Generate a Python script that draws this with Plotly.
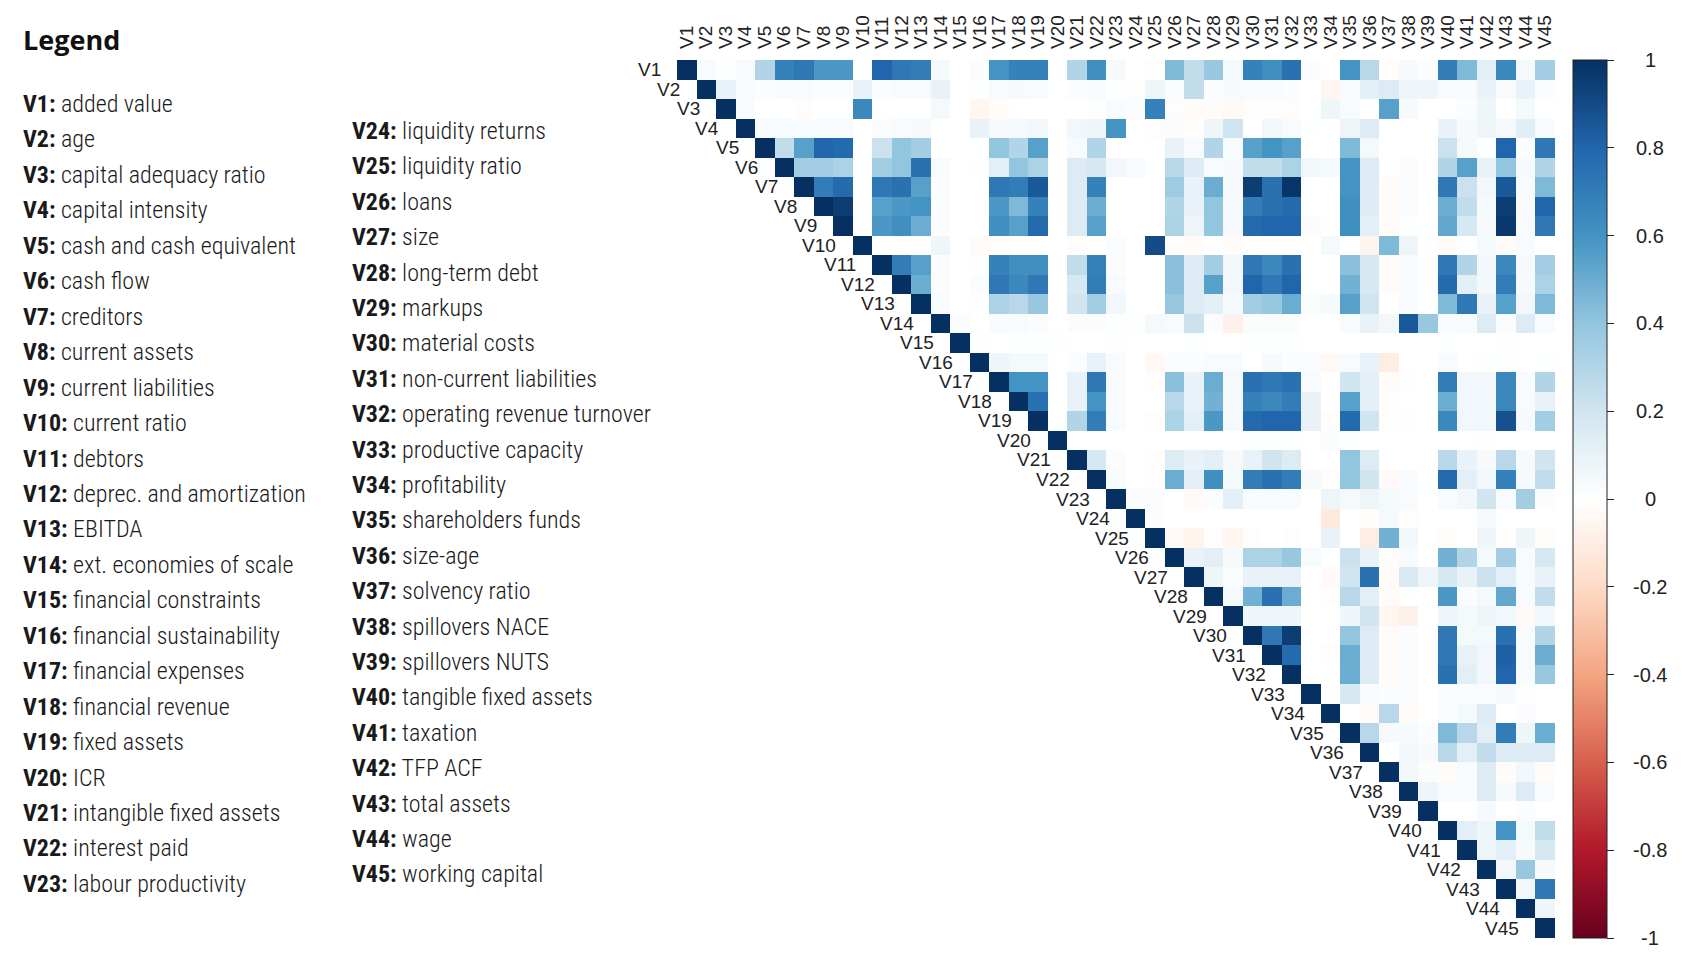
import plotly.graph_objects as go

# variable names (V1..V45) and their descriptions
var_names = ["V%d" % i for i in range(1, 46)]
descriptions = [
    "added value", "age", "capital adequacy ratio", "capital intensity",
    "cash and cash equivalent", "cash flow", "creditors", "current assets",
    "current liabilities", "current ratio", "debtors", "deprec. and amortization",
    "EBITDA", "ext. economies of scale", "financial constraints",
    "financial sustainability", "financial expenses", "financial revenue",
    "fixed assets", "ICR", "intangible fixed assets", "interest paid",
    "labour productivity", "liquidity returns", "liquidity ratio", "loans",
    "size", "long-term debt", "markups", "material costs",
    "non-current liabilities", "operating revenue turnover",
    "productive capacity", "profitability", "shareholders funds", "size-age",
    "solvency ratio", "spillovers NACE", "spillovers NUTS",
    "tangible fixed assets", "taxation", "TFP ACF", "total assets", "wage",
    "working capital",
]

# upper triangle of the correlation matrix, row k holds columns k+1..45
r1 = [0.03, 0.01, 0.03, 0.30, 0.68, 0.72, 0.58, 0.58, 0.00, 0.80, 0.72, 0.70, 0.05, 0.00, 0.02, 0.60, 0.68, 0.68, 0.00, 0.30, 0.62, 0.04, 0.00, -0.01, 0.45, 0.25, 0.38, 0.05, 0.68, 0.62, 0.75, 0.02, 0.00, 0.60, 0.28, -0.01, 0.04, 0.02, 0.70, 0.45, 0.12, 0.65, 0.05, 0.35]
r2 = [0.10, 0.03, 0.02, 0.03, 0.03, 0.02, 0.02, 0.10, 0.02, 0.03, 0.03, 0.10, 0.00, 0.01, 0.03, 0.04, 0.03, 0.00, 0.02, 0.03, 0.01, -0.01, 0.08, 0.02, 0.25, 0.02, 0.04, 0.03, 0.03, 0.02, 0.00, -0.05, 0.03, 0.12, 0.15, 0.08, 0.07, 0.03, 0.03, 0.10, 0.03, 0.10, 0.02]
r3 = [0.03, 0.00, 0.00, -0.01, 0.00, 0.00, 0.65, 0.00, 0.00, 0.00, 0.05, 0.00, -0.05, -0.02, 0.00, 0.00, 0.00, 0.00, 0.01, 0.03, 0.02, 0.68, -0.01, -0.02, -0.02, -0.04, -0.01, -0.01, -0.01, 0.00, 0.07, 0.03, 0.00, 0.55, 0.04, 0.00, 0.00, 0.02, 0.07, 0.00, 0.05, 0.00]
r4 = [0.03, 0.03, 0.03, 0.03, 0.03, 0.00, 0.02, 0.03, 0.04, 0.00, 0.00, 0.10, 0.04, 0.05, 0.06, 0.00, 0.06, 0.07, 0.60, 0.00, -0.01, 0.02, -0.01, 0.07, 0.20, 0.00, 0.06, 0.03, 0.01, 0.00, 0.08, 0.15, 0.00, 0.00, 0.00, 0.10, 0.04, 0.07, 0.05, 0.13, 0.03]
r5 = [0.25, 0.55, 0.80, 0.78, 0.00, 0.22, 0.40, 0.35, 0.00, 0.00, 0.00, 0.40, 0.30, 0.55, 0.00, 0.03, 0.30, 0.00, 0.00, 0.00, 0.10, 0.03, 0.30, 0.03, 0.55, 0.60, 0.55, 0.00, 0.00, 0.45, 0.05, 0.00, 0.00, 0.00, 0.22, 0.05, 0.01, 0.80, 0.02, 0.72]
r6 = [0.35, 0.35, 0.32, 0.00, 0.35, 0.40, 0.75, 0.03, 0.00, 0.01, 0.12, 0.40, 0.32, 0.00, 0.15, 0.18, 0.06, 0.03, 0.00, 0.28, 0.15, 0.03, 0.04, 0.25, 0.25, 0.32, 0.06, 0.05, 0.60, 0.15, 0.00, 0.02, 0.00, 0.30, 0.55, 0.10, 0.40, 0.04, 0.30]
r7 = [0.70, 0.78, 0.00, 0.72, 0.75, 0.55, 0.02, 0.00, 0.00, 0.72, 0.70, 0.85, 0.00, 0.15, 0.68, 0.00, 0.00, 0.00, 0.36, 0.10, 0.50, 0.04, 0.95, 0.75, 0.98, 0.00, 0.00, 0.60, 0.15, -0.02, 0.02, 0.00, 0.72, 0.22, 0.06, 0.85, 0.03, 0.45]
r8 = [0.95, 0.00, 0.55, 0.58, 0.60, 0.02, 0.00, 0.00, 0.58, 0.45, 0.68, 0.00, 0.15, 0.50, 0.00, 0.00, 0.00, 0.30, 0.10, 0.40, 0.04, 0.70, 0.75, 0.78, 0.00, 0.00, 0.62, 0.15, -0.02, 0.02, 0.00, 0.50, 0.25, 0.05, 0.95, 0.03, 0.80]
r9 = [0.00, 0.58, 0.62, 0.50, 0.02, 0.00, 0.00, 0.62, 0.55, 0.78, 0.00, 0.15, 0.55, 0.00, 0.00, 0.00, 0.32, 0.08, 0.40, 0.04, 0.78, 0.80, 0.80, 0.02, 0.00, 0.62, 0.12, -0.02, 0.01, 0.00, 0.52, 0.18, 0.04, 0.97, 0.03, 0.72]
r10 = [0.00, 0.00, 0.00, 0.07, 0.00, -0.02, -0.01, 0.00, 0.00, 0.00, -0.01, 0.00, 0.02, 0.00, 0.90, -0.01, -0.02, 0.00, -0.02, 0.00, 0.00, 0.00, 0.00, 0.05, 0.00, -0.06, 0.45, 0.08, 0.01, -0.02, 0.00, 0.05, -0.02, 0.03, 0.00]
r11 = [0.70, 0.55, 0.02, 0.00, 0.01, 0.68, 0.62, 0.62, 0.00, 0.25, 0.68, 0.02, 0.00, 0.00, 0.42, 0.15, 0.35, 0.06, 0.72, 0.65, 0.75, 0.00, 0.00, 0.42, 0.18, -0.02, 0.03, 0.00, 0.72, 0.30, 0.06, 0.65, 0.04, 0.35]
r12 = [0.50, 0.02, 0.00, 0.02, 0.72, 0.65, 0.72, 0.00, 0.18, 0.70, 0.03, 0.00, 0.00, 0.42, 0.15, 0.55, 0.06, 0.80, 0.72, 0.80, 0.00, 0.00, 0.48, 0.18, -0.02, 0.03, 0.00, 0.78, 0.12, 0.06, 0.70, 0.04, 0.32]
r13 = [0.03, 0.00, 0.01, 0.32, 0.28, 0.38, 0.00, 0.20, 0.35, 0.06, 0.00, 0.00, 0.38, 0.15, 0.12, 0.05, 0.35, 0.38, 0.50, 0.02, 0.04, 0.55, 0.20, 0.00, 0.03, 0.00, 0.45, 0.72, 0.10, 0.55, 0.06, 0.45]
r14 = [0.02, 0.00, 0.03, 0.03, 0.02, 0.00, 0.02, 0.02, 0.01, 0.01, 0.05, 0.03, 0.22, 0.02, -0.08, 0.02, 0.02, 0.02, 0.00, 0.00, 0.03, 0.10, 0.06, 0.85, 0.38, 0.03, 0.03, 0.15, 0.02, 0.15, 0.03]
r15 = [0.01, 0.00, 0.01, 0.01, 0.01, 0.00, 0.00, 0.01, 0.00, 0.00, 0.00, 0.01, 0.00, 0.00, 0.01, 0.01, 0.01, 0.00, 0.00, 0.00, 0.00, 0.00, 0.00, 0.00, 0.01, 0.00, 0.00, 0.01, 0.00, 0.00]
r16 = [0.07, 0.05, 0.05, 0.00, 0.02, 0.10, 0.03, 0.00, -0.04, 0.02, 0.02, 0.03, 0.03, 0.00, 0.04, 0.02, 0.02, -0.04, 0.03, 0.10, -0.10, 0.00, 0.00, 0.03, 0.00, 0.01, 0.01, 0.00, 0.01]
r17 = [0.60, 0.60, 0.00, 0.10, 0.72, 0.03, 0.00, -0.01, 0.42, 0.10, 0.50, 0.05, 0.75, 0.72, 0.75, 0.03, 0.00, 0.20, 0.12, -0.02, 0.01, 0.00, 0.70, 0.06, 0.06, 0.65, 0.03, 0.30]
r18 = [0.75, 0.00, 0.10, 0.60, 0.03, 0.00, 0.00, 0.28, 0.10, 0.48, 0.05, 0.68, 0.65, 0.70, 0.10, 0.00, 0.55, 0.12, -0.01, 0.00, 0.00, 0.50, 0.06, 0.06, 0.65, 0.03, 0.10]
r19 = [0.00, 0.30, 0.70, 0.03, 0.00, -0.01, 0.32, 0.12, 0.58, 0.05, 0.78, 0.80, 0.80, 0.10, -0.01, 0.78, 0.20, -0.01, 0.01, 0.00, 0.65, 0.06, 0.06, 0.88, 0.04, 0.35]
r20 = [0.00, 0.00, 0.00, 0.00, 0.00, 0.00, 0.00, 0.00, 0.00, 0.01, 0.01, 0.01, 0.00, 0.02, 0.01, 0.00, 0.00, 0.00, 0.00, 0.00, 0.00, 0.01, 0.00, 0.00, 0.00]
r21 = [0.18, 0.02, 0.00, -0.01, 0.15, 0.10, 0.12, 0.04, 0.10, 0.20, 0.15, 0.00, 0.00, 0.40, 0.15, 0.00, 0.00, 0.00, 0.28, 0.10, 0.04, 0.28, 0.04, 0.20]
r22 = [0.03, 0.00, -0.01, 0.50, 0.12, 0.62, 0.05, 0.70, 0.75, 0.70, 0.04, -0.01, 0.40, 0.20, -0.03, 0.03, 0.00, 0.78, 0.12, 0.06, 0.68, 0.04, 0.25]
r23 = [0.02, 0.02, 0.00, -0.03, 0.02, 0.12, 0.03, 0.03, 0.03, 0.00, 0.08, 0.05, 0.08, 0.05, 0.03, 0.00, 0.03, 0.06, 0.20, 0.03, 0.35, 0.02]
r24 = [0.02, 0.00, 0.00, 0.00, 0.00, 0.00, 0.00, 0.00, 0.00, -0.12, 0.00, -0.01, 0.05, -0.01, 0.00, 0.00, 0.00, 0.04, 0.00, 0.00, 0.00]
r25 = [-0.03, -0.06, -0.01, -0.05, -0.01, 0.00, -0.01, 0.00, 0.10, 0.00, -0.10, 0.48, 0.06, 0.00, -0.01, 0.00, 0.07, -0.01, 0.07, -0.01]
r26 = [0.10, 0.12, 0.04, 0.32, 0.32, 0.38, 0.03, 0.00, 0.22, 0.10, -0.01, 0.03, 0.00, 0.48, 0.30, 0.05, 0.35, 0.03, 0.18]
r27 = [0.07, 0.02, 0.10, 0.10, 0.10, 0.00, -0.03, 0.20, 0.75, -0.02, 0.17, 0.08, 0.18, 0.10, 0.22, 0.12, 0.03, 0.10]
r28 = [0.05, 0.48, 0.75, 0.50, 0.00, -0.01, 0.28, 0.12, -0.02, 0.01, 0.00, 0.58, 0.02, 0.05, 0.52, 0.03, 0.25]
r29 = [0.07, 0.07, 0.07, 0.00, 0.00, 0.07, 0.20, -0.05, -0.08, 0.00, 0.07, 0.05, 0.08, 0.06, -0.03, 0.06]
r30 = [0.72, 0.95, 0.00, 0.00, 0.40, 0.15, -0.02, 0.02, 0.00, 0.72, 0.05, 0.05, 0.75, 0.03, 0.30]
r31 = [0.78, 0.00, -0.01, 0.50, 0.15, -0.02, 0.02, 0.00, 0.72, 0.10, 0.06, 0.82, 0.03, 0.50]
r32 = [0.00, 0.00, 0.50, 0.15, -0.02, 0.02, 0.00, 0.75, 0.12, 0.06, 0.80, 0.03, 0.38]
r33 = [0.00, 0.18, 0.03, 0.02, 0.02, 0.00, 0.02, 0.02, 0.02, 0.04, 0.01, 0.00]
r34 = [0.00, -0.02, 0.28, -0.02, 0.00, 0.02, 0.05, 0.15, 0.00, 0.02, 0.00]
r35 = [0.28, 0.04, 0.04, 0.02, 0.45, 0.28, 0.12, 0.70, 0.07, 0.50]
r36 = [0.00, 0.06, 0.04, 0.28, 0.12, 0.25, 0.15, 0.15, 0.15]
r37 = [0.06, 0.02, -0.02, 0.03, 0.15, -0.02, 0.06, -0.02]
r38 = [0.08, 0.03, 0.03, 0.15, 0.04, 0.15, 0.03]
r39 = [0.00, 0.00, 0.04, 0.00, 0.02, 0.00]
r40 = [0.12, 0.07, 0.60, 0.05, 0.25]
r41 = [0.08, 0.12, 0.04, 0.18]
r42 = [0.06, 0.38, 0.04]
r43 = [0.06, 0.72]
r44 = [0.07]

upper_rows = [r1, r2, r3, r4, r5, r6, r7, r8, r9, r10, r11, r12, r13, r14, r15,
              r16, r17, r18, r19, r20, r21, r22, r23, r24, r25, r26, r27, r28,
              r29, r30, r31, r32, r33, r34, r35, r36, r37, r38, r39, r40, r41,
              r42, r43, r44, []]

colorbar_ticks = [-1, -0.8, -0.6, -0.4, -0.2, 0, 0.2, 0.4, 0.6, 0.8, 1]
colorbar_labels = ["-1", "-0.8", "-0.6", "-0.4", "-0.2", "0", "0.2", "0.4", "0.6", "0.8", "1"]

# corrplot's RdBu palette
rdbu = ["#67001F", "#B2182B", "#D6604D", "#F4A582", "#FDDBC7", "#FFFFFF",
        "#D1E5F0", "#92C5DE", "#4393C3", "#2166AC", "#053061"]
colorscale = [[i / 10, c] for i, c in enumerate(rdbu)]

n = len(var_names)
z = []
for i in range(n):
    row = [None] * i + [1.0] + list(upper_rows[i])
    z.append(row)

W, H = 1692, 958
L, T, PW, PH = 677, 60, 878, 878


def px_x(p):
    return (p - L) / PW


def px_y(p):
    return 1 - (p - T) / PH


fig = go.Figure()
fig.add_trace(go.Heatmap(
    z=z, x=var_names, y=var_names,
    zmin=-1, zmax=1, colorscale=colorscale,
    hoverongaps=False,
    colorbar=dict(
        x=px_x(1573), xanchor="left", y=0.5, yanchor="middle",
        len=1, lenmode="fraction", thickness=34, thicknessmode="pixels",
        xpad=0, ypad=0, outlinewidth=1, outlinecolor="#222",
        tickvals=colorbar_ticks, showticklabels=False,
        ticks="outside", ticklen=7, tickcolor="#222",
    ),
))

annotations = []

# colorbar labels, centred like corrplot's
for v, lab in zip(colorbar_ticks, colorbar_labels):
    annotations.append(dict(
        x=px_x(1650), y=(v + 1) / 2, xref="paper", yref="paper", text=lab,
        showarrow=False, xanchor="center", yanchor="middle",
        font=dict(family="Liberation Sans, Arial", size=20, color="#222"),
    ))

# row labels sitting next to the diagonal
for name in var_names:
    annotations.append(dict(
        x=name, y=name, xref="x", yref="y", text=name, showarrow=False,
        xanchor="right", yanchor="middle", xshift=-24,
        font=dict(family="Liberation Sans, Arial", size=19, color="#222"),
    ))

# legend block on the left
leg_font = "Liberation Sans Narrow, Roboto Condensed, DejaVu Sans Condensed, Roboto"
annotations.append(dict(
    x=px_x(21), y=px_y(39), xref="paper", yref="paper", text="<b>Legend</b>",
    showarrow=False, xanchor="left", yanchor="middle",
    font=dict(family="Open Sans, Lato", size=27, color="#111"),
))
for i, (name, desc) in enumerate(zip(var_names, descriptions)):
    if i < 23:
        lx, ly = 21, 104 + 35.45 * i
    else:
        lx, ly = 350, 131 + 35.4 * (i - 23)
    annotations.append(dict(
        x=px_x(lx), y=px_y(ly), xref="paper", yref="paper",
        text="<b>%s:</b> %s" % (name, desc), showarrow=False,
        xanchor="left", yanchor="middle",
        font=dict(family=leg_font, size=24, color="#1a1a1a", weight=300),
    ))

fig.update_layout(
    width=W, height=H,
    margin=dict(l=L, r=W - L - PW, t=T, b=H - T - PH),
    paper_bgcolor="white", plot_bgcolor="white",
    xaxis=dict(side="top", tickangle=-90, range=[-0.5, n - 0.5],
               tickmode="array", tickvals=var_names, ticktext=var_names,
               showgrid=False, zeroline=False, showline=False, ticks="",
               ticklabelstandoff=10,
               tickfont=dict(family="Liberation Sans, Arial", size=19, color="#222")),
    yaxis=dict(range=[n - 0.5, -0.5], showticklabels=False, showgrid=False,
               zeroline=False, showline=False, ticks=""),
    annotations=annotations,
    showlegend=False,
)

fig.write_html("out.html", config={"displayModeBar": False},
               post_script="document.body.style.margin='0';document.body.style.overflow='hidden';")
